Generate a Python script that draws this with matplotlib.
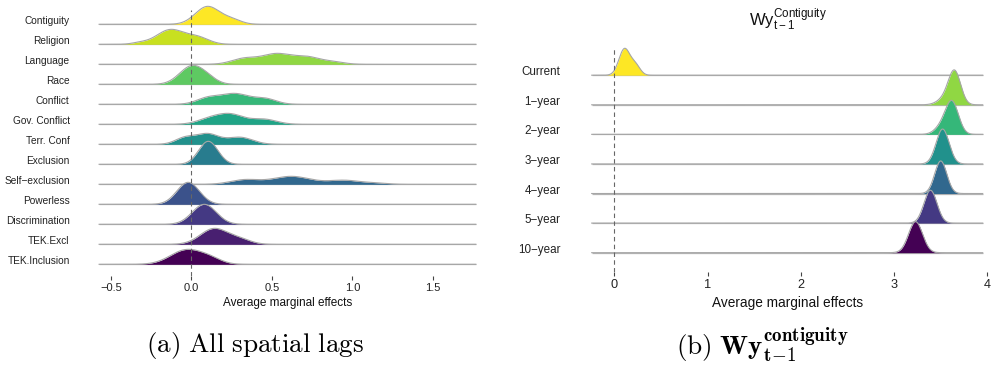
import numpy as np
import matplotlib
matplotlib.use("Agg")
import matplotlib.pyplot as plt
from matplotlib import cm

plt.rcParams['font.family'] = ['Liberation Sans', 'DejaVu Sans']
plt.rcParams['mathtext.fontset'] = 'custom'
plt.rcParams['mathtext.rm'] = 'Liberation Sans'
plt.rcParams['mathtext.it'] = 'Liberation Sans:italic'
plt.rcParams['mathtext.bf'] = 'Liberation Sans:bold'

# ---------------- data ----------------
left_labels = ["Contiguity", "Religion", "Language", "Race", "Conflict",
               "Gov. Conflict", "Terr. Conf", "Exclusion", "Self\u2212exclusion",
               "Powerless", "Discrimination", "TEK.Excl", "TEK.Inclusion"]
# density components per ridge: (centre, sd, relative weight)
left_components = [
    [(0.10, 0.075, 1.0), (0.25, 0.06, 0.25)],
    [(-0.13, 0.085, 1.0), (0.04, 0.07, 0.45), (-0.32, 0.05, 0.1)],
    [(0.33, 0.08, 0.5), (0.53, 0.09, 0.9), (0.72, 0.08, 0.6), (0.88, 0.07, 0.2)],
    [(0.0, 0.075, 1.0), (0.1, 0.06, 0.25)],
    [(0.1, 0.07, 0.5), (0.27, 0.09, 0.9), (0.46, 0.07, 0.45)],
    [(0.12, 0.08, 0.5), (0.25, 0.08, 0.8), (0.45, 0.08, 0.45)],
    [(-0.04, 0.06, 0.5), (0.1, 0.07, 0.8), (0.3, 0.08, 0.55)],
    [(0.105, 0.06, 1.0)],
    [(0.33, 0.09, 0.5), (0.62, 0.12, 0.9), (0.95, 0.1, 0.45), (1.15, 0.07, 0.12)],
    [(-0.02, 0.07, 1.0)],
    [(0.08, 0.075, 1.0)],
    [(0.14, 0.085, 1.0), (0.3, 0.07, 0.3)],
    [(-0.03, 0.1, 1.0), (0.12, 0.07, 0.3)],
]
# peak height of each ridge in units of the row spacing
left_peaks = [0.9, 0.75, 0.55, 0.95, 0.55, 0.55, 0.55, 1.15, 0.4, 1.1, 1.0, 0.8, 0.75]
left_xrange = (-0.573, 1.766)
left_ticks = [-0.5, 0.0, 0.5, 1.0, 1.5]

right_labels = ["Current", "1\u2212year", "2\u2212year", "3\u2212year",
                "4\u2212year", "5\u2212year", "10\u2212year"]
right_components = [
    [(0.11, 0.06, 1.0), (0.23, 0.05, 0.35)],
    [(3.65, 0.065, 1.0), (3.55, 0.08, 0.2)],
    [(3.62, 0.07, 1.0), (3.5, 0.07, 0.2)],
    [(3.52, 0.07, 1.0)],
    [(3.50, 0.065, 1.0)],
    [(3.39, 0.07, 1.0)],
    [(3.23, 0.075, 1.0)],
]
right_peaks = [0.91, 1.18, 1.15, 1.18, 1.1, 1.11, 1.05]
right_xrange = (-0.242, 3.95)
right_ticks = [0, 1, 2, 3, 4]

# ---------------- helpers ----------------
def density(x, comps):
    d = np.zeros_like(x)
    for c, s, w in comps:
        d += w * np.exp(-0.5 * ((x - c) / s) ** 2)
    return d / d.max()

OUT = "#a6a6a6"
GRID = "#b4b4b4"

def ridges(ax, labels, comps, peaks, xr, ticks, xlim, ylim, vtop, lab_off,
           fs_lab, fs_tick, fs_xlab, xlabpad):
    n = len(labels)
    cols = cm.viridis(np.linspace(0, 1, n))[::-1]
    x = np.linspace(xr[0], xr[1], 800)
    for i, (lab, cp, pk) in enumerate(zip(labels, comps, peaks)):
        base = n - 1 - i
        ax.hlines(base, xr[0], xr[1], color=GRID, lw=0.9, zorder=1)
        y = base + pk * density(x, cp)
        z = 2 + i
        ax.fill_between(x, base, y, color=cols[i], lw=0, zorder=z)
        ax.plot(x, y, color=OUT, lw=0.8, zorder=z + 0.1)
        ax.annotate(lab, xy=(0, base), xycoords=('axes fraction', 'data'),
                    xytext=(lab_off, 3), textcoords='offset pixels',
                    ha='right', va='center', fontsize=fs_lab, color='#222222')
    ax.vlines(0, ylim[0], vtop, colors='#666666', linestyles=(0, (4, 3)),
              lw=0.8, zorder=50)
    ax.set_xlim(*xlim)
    ax.set_ylim(*ylim)
    ax.set_xticks(ticks)
    ax.set_yticks([])
    for s in ax.spines.values():
        s.set_visible(False)
    ax.tick_params(axis='x', length=3, width=0.8, color='#444444',
                   labelsize=fs_tick, labelcolor='#222222', pad=2)
    ax.set_xlabel("Average marginal effects", fontsize=fs_xlab, color='#111111',
                  labelpad=xlabpad)
    ax.patch.set_alpha(0)

fig = plt.figure(figsize=(9.91, 3.69), dpi=100)

ax1 = fig.add_axes([0.0956, 0.252, 0.390, 0.7344])
ridges(ax1, left_labels, left_components, left_peaks, left_xrange,
       left_ticks, (-0.6, 1.8), (-0.585, 12.965), 12.7, -25,
       7.3, 8, 8.5, 3)
ax1.xaxis.set_major_formatter(matplotlib.ticker.FuncFormatter(
    lambda v, p: ("%.1f" % v).replace('-', '\u2212')))

ax2 = fig.add_axes([0.5916, 0.2629, 0.4066, 0.6287])
ridges(ax2, right_labels, right_components, right_peaks, right_xrange,
       right_ticks, (-0.3, 4.02), (-0.653, 7.19), 6.92, -26,
       8.4, 9.2, 9.8, 4)
ax2.set_title(r"$\mathrm{Wy}_{\mathrm{t-1}}^{\mathrm{Contiguity}}$",
              fontsize=12, color='#111111', pad=10)

fig.text(0.257, 0.065, r"$\mathrm{(a)\ All\ spatial\ lags}$",
         fontsize=19.5, ha='center', va='center', math_fontfamily='cm')
fig.text(0.769, 0.065,
         r"$\mathrm{(b)}\ \mathbf{Wy}_{\mathbf{t}\!-\!\mathbf{1}}^{\mathbf{contiguity}}$",
         fontsize=19.5, ha='center', va='center', math_fontfamily='cm')

fig.savefig("out.png", dpi=100)
